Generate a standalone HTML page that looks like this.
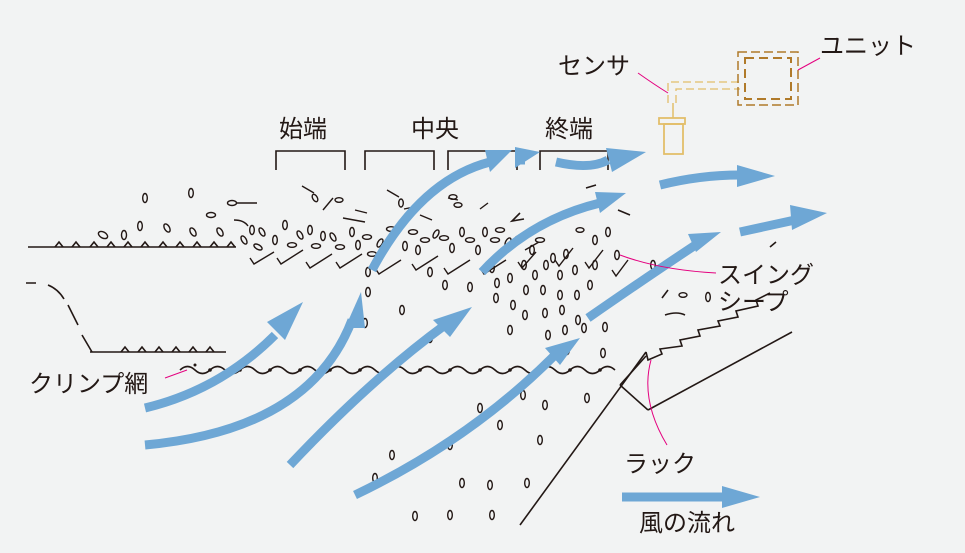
<!DOCTYPE html>
<html><head><meta charset="utf-8"><style>
body{margin:0;background:#f2f3f3}
svg{display:block}
text{font-family:"Liberation Sans","Noto Sans CJK JP",sans-serif;font-size:24px;fill:#231815}
</style></head><body>
<svg width="965" height="553" viewBox="0 0 965 553" xmlns="http://www.w3.org/2000/svg">
<rect width="965" height="553" fill="#f2f3f3"/>
<g stroke="#231815" stroke-width="1.6" fill="none">
<line x1="28" y1="247" x2="236" y2="247"/>
<path d="M55,247 l4,-5 l4,5 M72,247 l4,-5 l4,5 M90,247 l4,-5 l4,5 M107,247 l4,-5 l4,5 M124,247 l4,-5 l4,5 M141,247 l4,-5 l4,5 M159,247 l4,-5 l4,5 M176,247 l4,-5 l4,5 M193,247 l4,-5 l4,5 M210,247 l4,-5 l4,5 M227,247 l4,-5 l4,5"/>
<path d="M26,283 h10 M48,285 q10,4 16,14 M68,305 l10,20 M82,335 l10,17" />
<line x1="90" y1="352" x2="226" y2="352"/>
<path d="M121,352 l4,-5 l4,5 M138,352 l4,-5 l4,5 M155,352 l4,-5 l4,5 M172,352 l4,-5 l4,5 M189,352 l4,-5 l4,5 M206,352 l4,-5 l4,5"/>
<path d="M180,370 q7.5,-7 15,0 t15,0 t15,0 t15,0 t15,0 t15,0 t15,0 t15,0 t15,0 t15,0 t15,0 t15,0 t15,0 t15,0 t15,0 t15,0 t15,0 t15,0 t15,0 t15,0 t15,0 t15,0 t15,0 t15,0 t15,0 t15,0 t15,0 t15,0 t15,0"/>
<path d="M276,170 V151 H345 V170 M365,170 V151 H434 V170 M448,170 V151 H517 V170 M540,170 V151 H608 V170"/>
<line x1="520" y1="525" x2="646" y2="352"/>
<path d="M646,352 l2,8 l14,-6 l-2,-5 l22,-3 l-2,-6 l20,-4 l-2,-6 l22,-4 l-2,-5 l20,-4 l-2,-6 l22,-5 l-2,-6 l14,-7"/>
<line x1="620" y1="385" x2="648" y2="410"/>
<line x1="648" y1="410" x2="792" y2="332"/>
<line x1="620" y1="385" x2="646" y2="356"/>
<path d="M665,315 q12,-4 20,0 M662,298 l6,-8 M770,247 l6,-5 M586,188 l10,-3 M618,210 l12,5 M520,213 l-8,8 l12,-2"/>
</g>
<g stroke="#231815" stroke-width="1.4" fill="none">
<ellipse cx="145" cy="198" rx="2.3" ry="4.5"/><ellipse cx="191" cy="193" rx="2.3" ry="4.5"/>
<ellipse cx="103" cy="235" rx="5" ry="3" transform="rotate(30 103 235)"/><ellipse cx="124" cy="235" rx="2.5" ry="4.5"/>
<ellipse cx="140" cy="226" rx="2.3" ry="4.5"/><ellipse cx="167" cy="228" rx="2.5" ry="4.5" transform="rotate(-30 167 228)"/>
<ellipse cx="193" cy="232" rx="2.5" ry="4.5" transform="rotate(-30 193 232)"/><ellipse cx="211" cy="215" rx="4.5" ry="2.5"/>
<ellipse cx="220" cy="232" rx="2.5" ry="4.5" transform="rotate(-30 220 232)"/>
<ellipse cx="232" cy="203" rx="4.5" ry="2.5"/><path d="M236,203 h21 M234,220 q10,0 14,6"/>
<path d="M302,186 l12,7 M323,210 l10,-12 M355,210 l12,3 M343,218 l22,4 M387,190 l12,7 M404,209 l10,-2 M420,215 l12,5 M448,198 l10,2 M488,203 l-8,6"/>
<ellipse cx="315" cy="198" rx="2.3" ry="4" transform="rotate(-30 315 198)"/><ellipse cx="339" cy="200" rx="4" ry="2.3"/>
<ellipse cx="401" cy="203" rx="2.3" ry="4"/><ellipse cx="453" cy="197" rx="4" ry="2.3"/><ellipse cx="458" cy="205" rx="4" ry="2.3"/>
</g>
<g stroke="#231815" stroke-width="1.4" fill="none">
<path d="M250,258 l4,6 l20,-12 M277,258 l4,6 l22,-14 M306,262 l4,6 l22,-14 M336,262 l4,6 l22,-14 M375,268 l4,6 l22,-14 M412,264 l4,6 l22,-14 M444,268 l4,6 l22,-14 M480,268 l4,6 l22,-14 M518,262 l4,6 l14,-16 M525,250 l14,-8 M555,260 l4,6 l14,-18 M585,262 l4,6 l14,-18 M612,270 l4,6 l12,-16"/>
<ellipse cx="244" cy="240" rx="2.3" ry="4.5" transform="rotate(-30 244 240)"/><ellipse cx="252" cy="230" rx="2.3" ry="4.5"/>
<ellipse cx="258" cy="247" rx="4.5" ry="2.3" transform="rotate(30 258 247)"/><ellipse cx="262" cy="232" rx="2.3" ry="4.5" transform="rotate(-30 262 232)"/>
<ellipse cx="275" cy="240" rx="2.3" ry="4.5"/><ellipse cx="285" cy="225" rx="2.3" ry="4.5"/><ellipse cx="292" cy="245" rx="4.5" ry="2.3"/>
<ellipse cx="300" cy="235" rx="2.3" ry="4.5" transform="rotate(-30 300 235)"/><ellipse cx="310" cy="230" rx="2.3" ry="4.5"/><ellipse cx="316" cy="246" rx="4.5" ry="2.3"/>
<ellipse cx="323" cy="236" rx="2.3" ry="4.5"/><ellipse cx="333" cy="237" rx="2.3" ry="4.5" transform="rotate(-30 333 237)"/><ellipse cx="340" cy="247" rx="4.5" ry="2.3"/>
<ellipse cx="352" cy="232" rx="2.3" ry="4.5"/><ellipse cx="358" cy="245" rx="2.3" ry="4.5"/><ellipse cx="367" cy="237" rx="4.5" ry="2.3"/>
<ellipse cx="372" cy="254" rx="4.5" ry="2.3"/><ellipse cx="380" cy="243" rx="2.3" ry="4.5" transform="rotate(30 380 243)"/>
<ellipse cx="391" cy="229" rx="4.5" ry="2.3"/><ellipse cx="405" cy="246" rx="2.3" ry="4.5"/><ellipse cx="413" cy="232" rx="4.5" ry="2.3"/>
<ellipse cx="418" cy="250" rx="2.3" ry="4.5"/><ellipse cx="425" cy="240" rx="4.5" ry="2.3"/><ellipse cx="436" cy="234" rx="2.3" ry="4.5" transform="rotate(30 436 234)"/>
<ellipse cx="444" cy="238" rx="4.5" ry="2.3"/><ellipse cx="452" cy="248" rx="2.3" ry="4.5"/><ellipse cx="462" cy="232" rx="2.3" ry="4.5"/>
<ellipse cx="470" cy="240" rx="4.5" ry="2.3"/><ellipse cx="478" cy="250" rx="2.3" ry="4.5"/><ellipse cx="485" cy="232" rx="2.3" ry="4.5"/>
<ellipse cx="495" cy="240" rx="4.5" ry="2.3"/><ellipse cx="500" cy="230" rx="4.5" ry="2.3"/><ellipse cx="508" cy="242" rx="2.3" ry="4.5" transform="rotate(30 508 242)"/>
<ellipse cx="520" cy="238" rx="4.5" ry="2.3"/><ellipse cx="532" cy="250" rx="2.3" ry="4.5"/><ellipse cx="540" cy="240" rx="4.5" ry="2.3"/>
<ellipse cx="553" cy="258" rx="2.3" ry="4.5"/><ellipse cx="566" cy="254" rx="2.3" ry="4.5"/><ellipse cx="580" cy="230" rx="4" ry="2.3"/>
<ellipse cx="595" cy="240" rx="2.3" ry="4.5"/><ellipse cx="608" cy="232" rx="2.3" ry="4.5"/><ellipse cx="617" cy="255" rx="2.3" ry="4.5"/>
<ellipse cx="368" cy="272" rx="2.3" ry="4.5"/><ellipse cx="368" cy="292" rx="2.3" ry="4.5"/><ellipse cx="365" cy="323" rx="2.3" ry="4.5"/>
<ellipse cx="402" cy="310" rx="2.3" ry="4.5"/><ellipse cx="430" cy="272" rx="2.3" ry="4.5"/><ellipse cx="445" cy="285" rx="2.3" ry="4.5"/>
<ellipse cx="470" cy="287" rx="2.3" ry="4.5"/><ellipse cx="430" cy="338" rx="2.3" ry="4.5"/><ellipse cx="492" cy="268" rx="2.3" ry="4.5"/>
<ellipse cx="497" cy="283" rx="2.3" ry="4.5"/><ellipse cx="510" cy="278" rx="2.3" ry="4.5"/><ellipse cx="524" cy="265" rx="2.3" ry="4.5"/>
<ellipse cx="535" cy="275" rx="2.3" ry="4.5"/><ellipse cx="546" cy="265" rx="2.3" ry="4.5"/><ellipse cx="560" cy="275" rx="2.3" ry="4.5"/>
<ellipse cx="575" cy="270" rx="2.3" ry="4.5"/><ellipse cx="595" cy="265" rx="2.3" ry="4.5"/><ellipse cx="590" cy="285" rx="2.3" ry="4.5"/>
<ellipse cx="496" cy="298" rx="2.3" ry="4.5"/><ellipse cx="513" cy="305" rx="2.3" ry="4.5"/><ellipse cx="526" cy="290" rx="2.3" ry="4.5"/>
<ellipse cx="543" cy="290" rx="2.3" ry="4.5"/><ellipse cx="560" cy="295" rx="2.3" ry="4.5"/><ellipse cx="577" cy="295" rx="2.3" ry="4.5"/>
<ellipse cx="510" cy="330" rx="2.3" ry="4.5"/><ellipse cx="525" cy="315" rx="2.3" ry="4.5"/><ellipse cx="545" cy="313" rx="2.3" ry="4.5"/>
<ellipse cx="562" cy="310" rx="2.3" ry="4.5"/><ellipse cx="578" cy="320" rx="2.3" ry="4.5"/><ellipse cx="548" cy="335" rx="2.3" ry="4.5"/>
<ellipse cx="565" cy="330" rx="2.3" ry="4.5"/><ellipse cx="584" cy="328" rx="2.3" ry="4.5"/><ellipse cx="605" cy="327" rx="2.3" ry="4.5"/>
<ellipse cx="567" cy="350" rx="2.3" ry="4.5"/><ellipse cx="603" cy="353" rx="2.3" ry="4.5"/><ellipse cx="523" cy="395" rx="2.3" ry="4.5"/>
<ellipse cx="480" cy="408" rx="2.3" ry="4.5"/><ellipse cx="545" cy="405" rx="2.3" ry="4.5"/><ellipse cx="587" cy="398" rx="2.3" ry="4.5"/>
<ellipse cx="500" cy="425" rx="2.3" ry="4.5"/><ellipse cx="450" cy="445" rx="2.3" ry="4.5"/><ellipse cx="540" cy="440" rx="2.3" ry="4.5"/>
<ellipse cx="392" cy="455" rx="2.3" ry="4.5"/><ellipse cx="375" cy="478" rx="2.3" ry="4.5"/><ellipse cx="462" cy="483" rx="2.3" ry="4.5"/>
<ellipse cx="490" cy="485" rx="2.3" ry="4.5"/><ellipse cx="527" cy="483" rx="2.3" ry="4.5"/><ellipse cx="415" cy="516" rx="2.3" ry="4.5"/>
<ellipse cx="450" cy="515" rx="2.3" ry="4.5"/><ellipse cx="492" cy="515" rx="2.3" ry="4.5"/><ellipse cx="653" cy="265" rx="2.3" ry="4.5"/>
<ellipse cx="708" cy="297" rx="2.3" ry="4.5"/><ellipse cx="683" cy="295" rx="4" ry="2.3"/>
</g>
<g fill="#231815">
<circle cx="210" cy="370" r="1.8"/><circle cx="240" cy="370" r="1.8"/><circle cx="270" cy="370" r="1.8"/><circle cx="300" cy="370" r="1.8"/><circle cx="330" cy="370" r="1.8"/><circle cx="360" cy="370" r="1.8"/><circle cx="390" cy="370" r="1.8"/><circle cx="420" cy="370" r="1.8"/><circle cx="450" cy="370" r="1.8"/><circle cx="480" cy="370" r="1.8"/><circle cx="510" cy="370" r="1.8"/><circle cx="540" cy="370" r="1.8"/><circle cx="570" cy="370" r="1.8"/><circle cx="600" cy="370" r="1.8"/><circle cx="195" cy="365" r="1.5"/>
</g>
<g stroke="#6ea7d5" stroke-width="9" fill="none">
<path d="M145,408 Q220,390 275,335"/>
<path d="M145,445 Q310,430 352,320"/>
<path d="M290,465 Q370,380 445,325"/>
<path d="M355,495 Q470,440 555,355"/>
<path d="M372,270 Q420,180 490,162"/>
<path d="M482,272 Q530,220 600,203"/>
<path d="M588,318 Q650,275 700,242"/>
<path d="M556,162 Q590,170 608,160"/>
<path d="M660,185 Q700,175 740,175"/>
<path d="M740,232 L795,220"/>
<path d="M517,160 L525,160"/>
<path d="M622,497 L725,497"/>
</g>
<g fill="#6ea7d5">
<polygon points="303,302 267,322 285,340"/>
<polygon points="361,292 345,328 365,328"/>
<polygon points="472,307 433,320 450,337"/>
<polygon points="580,338 545,348 560,365"/>
<polygon points="512,150 485,150 490,172"/>
<polygon points="626,193 595,192 600,213"/>
<polygon points="721,232 688,234 696,252"/>
<polygon points="646,152 606,148 612,172"/>
<polygon points="775,176 737,165 737,187"/>
<polygon points="827,213 790,205 792,230"/>
<polygon points="540,152 515,147 515,168"/>
<polygon points="760,497 722,486 722,508"/>
</g>
<g fill="none">
<path d="M668,103 V82 H740 M676,103 V89 H740" stroke="#e3be6a" stroke-width="1.3" stroke-dasharray="8,4"/>
<line x1="673" y1="103" x2="673" y2="118" stroke="#e3be6a" stroke-width="1.5"/>
<rect x="659" y="118" width="26" height="6" stroke="#e3be6a" stroke-width="1.8"/>
<rect x="664" y="124" width="19" height="30" stroke="#e3be6a" stroke-width="1.8"/>
<rect x="738" y="52" width="60" height="53" stroke="#b07a2a" stroke-width="1.5" stroke-dasharray="9,4"/>
<rect x="745" y="58" width="46" height="41" stroke="#b07a2a" stroke-width="2" stroke-dasharray="9,5"/>
<path d="M638,73 Q655,85 668,93" stroke="#e4007f" stroke-width="1"/>
<path d="M798,70 L820,58" stroke="#e4007f" stroke-width="1"/>
<path d="M620,255 Q660,270 716,273" stroke="#e4007f" stroke-width="1"/>
<path d="M651,360 Q640,400 667,445" stroke="#e4007f" stroke-width="1"/>
<path d="M165,378 L187,370" stroke="#e4007f" stroke-width="1"/>
</g>
<text x="820" y="54">ユニット</text>
<text x="558" y="74">センサ</text>
<text x="279" y="137">始端</text>
<text x="411" y="137">中央</text>
<text x="545" y="137">終端</text>
<text x="718" y="283">スイング</text>
<text x="718" y="310">シープ</text>
<text x="29" y="392">クリンプ網</text>
<text x="624" y="472">ラック</text>
<text x="639" y="531">風の流れ</text>
</svg>
</body></html>
